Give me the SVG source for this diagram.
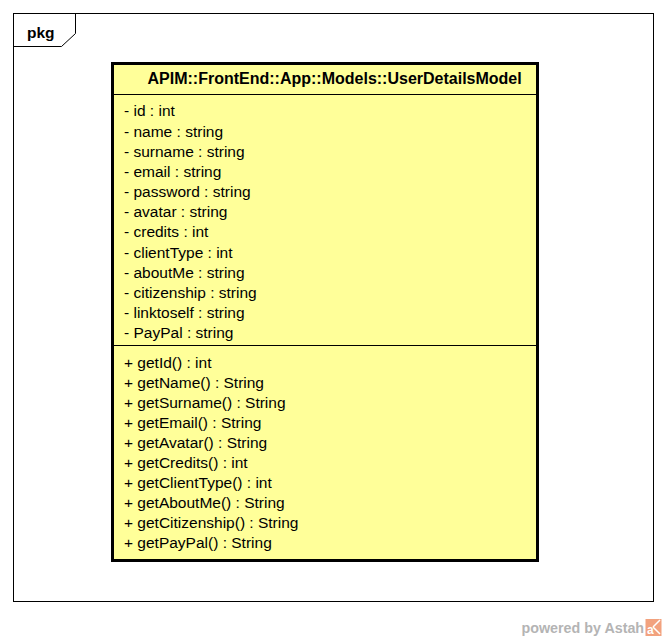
<svg xmlns="http://www.w3.org/2000/svg" width="666" height="641" viewBox="0 0 666 641">
<style>
.frame{fill:none;stroke:#000;stroke-width:1}
.cls{fill:#ffff99;stroke:#000;stroke-width:3}
.sep{stroke:#000;stroke-width:1}
.t{font-family:"Liberation Sans",Arial,sans-serif;font-size:15.5px;fill:#000}
.b{font-family:"Liberation Sans",Arial,sans-serif;font-weight:bold;fill:#000}
.wm{font-family:"Liberation Sans",Arial,sans-serif;font-weight:bold;font-size:14.3px;fill:#b4b4b4}
</style>
<rect width="666" height="641" fill="#fff"/>
<g id="pkg">
<rect class="frame" x="13.5" y="13.5" width="640" height="588"/>
<path class="frame" d="M75.5,13.5 V33.5 L61.5,46.5 H13.5"/>
<text class="b" x="27" y="37.5" style="font-size:15.5px">pkg</text>
</g>
<g id="UserDetailsModel">
<rect class="cls" x="112.5" y="63.5" width="425" height="497"/>
<line class="sep" x1="114" y1="94.5" x2="536" y2="94.5"/>
<line class="sep" x1="114" y1="345.5" x2="536" y2="345.5"/>
<text class="b" x="147.5" y="83.5" style="font-size:16px">APIM::FrontEnd::App::Models::UserDetailsModel</text>
<text class="t" x="124" y="116.3">- id : int</text>
<text class="t" x="124" y="136.5">- name : string</text>
<text class="t" x="124" y="156.7">- surname : string</text>
<text class="t" x="124" y="176.8">- email : string</text>
<text class="t" x="124" y="197">- password : string</text>
<text class="t" x="124" y="217.2">- avatar : string</text>
<text class="t" x="124" y="237.4">- credits : int</text>
<text class="t" x="124" y="257.6">- clientType : int</text>
<text class="t" x="124" y="277.7">- aboutMe : string</text>
<text class="t" x="124" y="297.9">- citizenship : string</text>
<text class="t" x="124" y="318.1">- linktoself : string</text>
<text class="t" x="124" y="338.3">- PayPal : string</text>
<text class="t" x="124" y="367.8">+ getId() : int</text>
<text class="t" x="124" y="387.8">+ getName() : String</text>
<text class="t" x="124" y="407.9">+ getSurname() : String</text>
<text class="t" x="124" y="427.9">+ getEmail() : String</text>
<text class="t" x="124" y="447.9">+ getAvatar() : String</text>
<text class="t" x="124" y="467.9">+ getCredits() : int</text>
<text class="t" x="124" y="488">+ getClientType() : int</text>
<text class="t" x="124" y="508">+ getAboutMe() : String</text>
<text class="t" x="124" y="528">+ getCitizenship() : String</text>
<text class="t" x="124" y="548">+ getPayPal() : String</text>
</g>
<g id="connectors"></g>
<g id="watermark">
<text class="wm" x="521.5" y="633.3">powered by Astah</text>
<rect x="645.5" y="619" width="16" height="17" fill="#f2a27e"/>
<text x="647" y="634" style="font-family:'Liberation Sans',Arial,sans-serif;font-size:12px;font-weight:bold;fill:#fff">a</text>
<path d="M653,627 L660,620 M653,627 L660,634" stroke="#fff" stroke-width="1.5" fill="none"/>
</g>
</svg>
